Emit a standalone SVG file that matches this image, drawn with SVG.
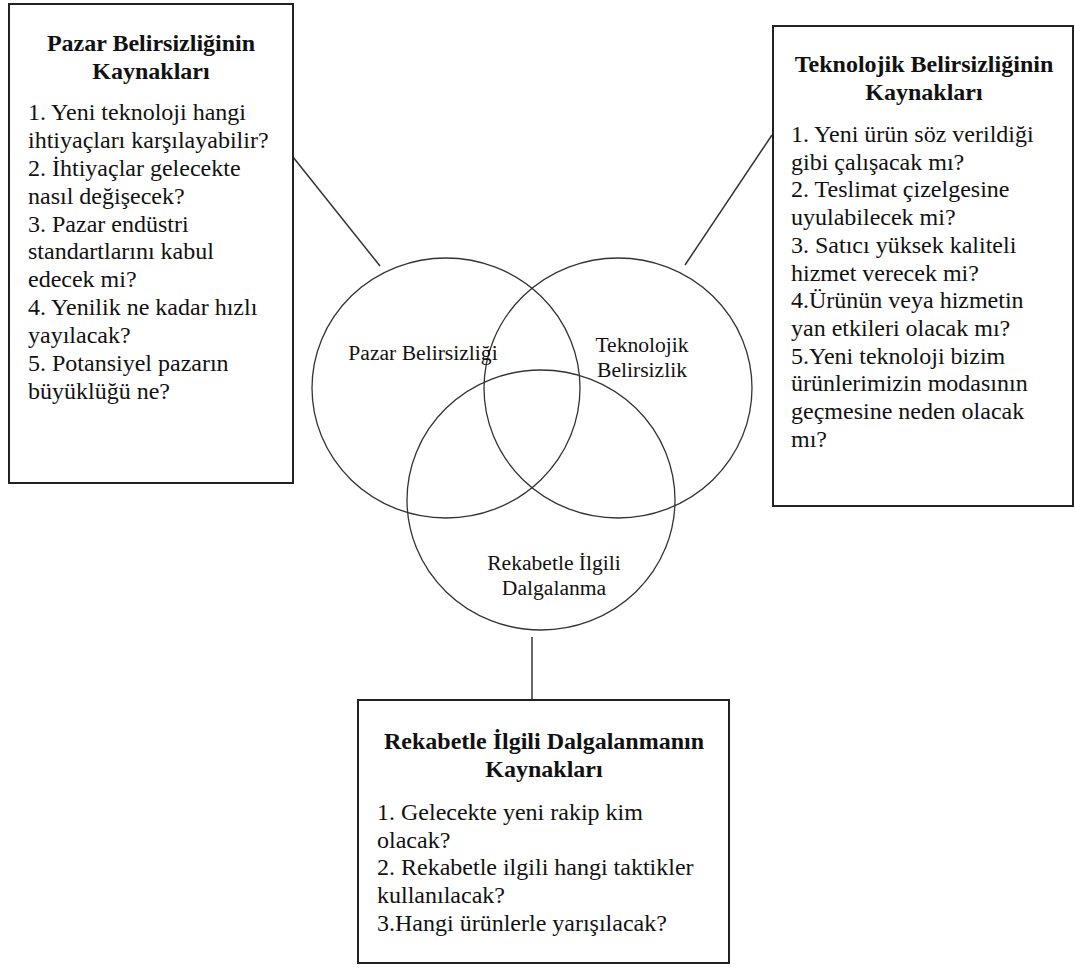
<svg xmlns="http://www.w3.org/2000/svg" width="1075" height="968" viewBox="0 0 1075 968" font-family="'Liberation Serif', 'DejaVu Serif', 'Times New Roman', Times, serif">
<style>
.box{fill:#fff;stroke:#222;stroke-width:2}
.circ{fill:none;stroke:#333;stroke-width:1.3}
.conn{stroke:#333;stroke-width:1.5;fill:none}
text{fill:#111}
.t{font-size:24px;font-weight:bold;text-anchor:middle}
.b{font-size:24px}
.l{font-size:21.6px;text-anchor:middle}
</style>
<rect width="1075" height="968" fill="#fff"/>
<g id="connectors">
<line class="conn" x1="293" y1="157" x2="380" y2="266"/>
<line class="conn" x1="772" y1="135" x2="685" y2="265"/>
<line class="conn" x1="532" y1="637" x2="532" y2="700"/>
</g>
<g id="venn">
<ellipse id="pazar-circle" class="circ" cx="446" cy="388" rx="134" ry="130"/>
<ellipse id="tekno-circle" class="circ" cx="618" cy="388" rx="134" ry="130"/>
<ellipse id="rekabet-circle" class="circ" cx="541" cy="500" rx="134" ry="130"/>
<text class="l" x="423" y="360">Pazar Belirsizliği</text>
<text class="l" x="642" y="352">Teknolojik</text>
<text class="l" x="642" y="377">Belirsizlik</text>
<text class="l" x="554" y="570">Rekabetle İlgili</text>
<text class="l" x="554" y="595">Dalgalanma</text>
</g>
<g id="pazar-box">
<rect class="box" x="9" y="4" width="284" height="479"/>
<text class="t" x="151" y="51">Pazar Belirsizliğinin</text>
<text class="t" x="151" y="79">Kaynakları</text>
<text class="b" x="28" y="120">1. Yeni teknoloji hangi</text>
<text class="b" x="28" y="148">ihtiyaçları karşılayabilir?</text>
<text class="b" x="28" y="176">2. İhtiyaçlar gelecekte</text>
<text class="b" x="28" y="204">nasıl değişecek?</text>
<text class="b" x="28" y="232">3. Pazar endüstri</text>
<text class="b" x="28" y="259">standartlarını kabul</text>
<text class="b" x="28" y="287">edecek mi?</text>
<text class="b" x="28" y="315">4. Yenilik ne kadar hızlı</text>
<text class="b" x="28" y="343">yayılacak?</text>
<text class="b" x="28" y="371">5. Potansiyel pazarın</text>
<text class="b" x="28" y="399">büyüklüğü ne?</text>
</g>
<g id="tekno-box">
<rect class="box" x="773" y="26" width="300" height="480"/>
<text class="t" x="924" y="72">Teknolojik Belirsizliğinin</text>
<text class="t" x="924" y="100">Kaynakları</text>
<text class="b" x="791" y="142">1. Yeni ürün söz verildiği</text>
<text class="b" x="791" y="169.7">gibi çalışacak mı?</text>
<text class="b" x="791" y="197.4">2. Teslimat çizelgesine</text>
<text class="b" x="791" y="225.1">uyulabilecek mi?</text>
<text class="b" x="791" y="252.8">3. Satıcı yüksek kaliteli</text>
<text class="b" x="791" y="280.5">hizmet verecek mi?</text>
<text class="b" x="791" y="308.2">4.Ürünün veya hizmetin</text>
<text class="b" x="791" y="335.9">yan etkileri olacak mı?</text>
<text class="b" x="791" y="363.6">5.Yeni teknoloji bizim</text>
<text class="b" x="791" y="391.3">ürünlerimizin modasının</text>
<text class="b" x="791" y="419">geçmesine neden olacak</text>
<text class="b" x="791" y="446.7">mı?</text>
</g>
<g id="rekabet-box">
<rect class="box" x="358" y="700" width="371" height="263"/>
<text class="t" x="544" y="749">Rekabetle İlgili Dalgalanmanın</text>
<text class="t" x="544" y="777">Kaynakları</text>
<text class="b" x="377" y="820">1. Gelecekte yeni rakip kim</text>
<text class="b" x="377" y="847.7">olacak?</text>
<text class="b" x="377" y="875.4">2. Rekabetle ilgili hangi taktikler</text>
<text class="b" x="377" y="903.1">kullanılacak?</text>
<text class="b" x="377" y="930.8">3.Hangi ürünlerle yarışılacak?</text>
</g>
</svg>
